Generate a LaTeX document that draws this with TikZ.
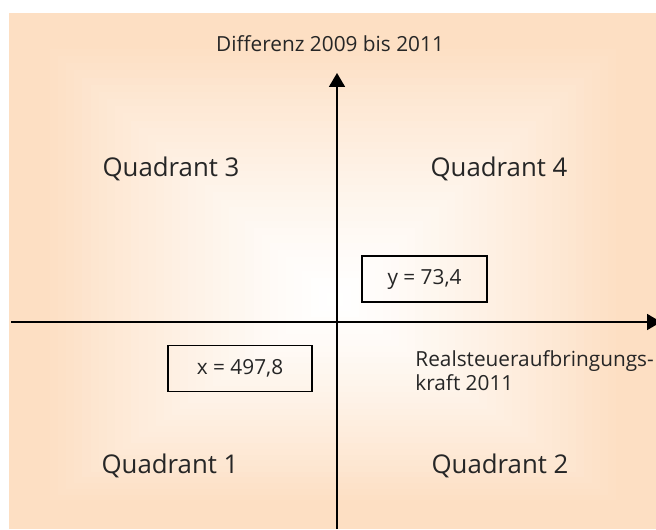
\documentclass[tikz,border=0pt]{standalone}
\usepackage{fontspec}
\setmainfont{Open Sans}
\usetikzlibrary{arrows.meta,positioning,calc}
\definecolor{peach}{RGB}{253,223,195}
\definecolor{labelgray}{RGB}{38,38,38}
\tikzset{
  axisline/.style={-{Triangle[length=7pt,width=8pt]},line width=0.9pt,draw=black},
  valbox/.style={draw=black,line width=0.7pt,minimum height=23pt,inner sep=0pt,
    font=\fontsize{10.4}{12}\selectfont,text=labelgray},
  quadlabel/.style={anchor=base,inner sep=0pt,font=\fontsize{12.9}{15}\selectfont,text=labelgray},
  axislabel/.style={inner sep=0pt,font=\fontsize{10.4}{12}\selectfont,text=labelgray}
}
\begin{document}
\begin{tikzpicture}[x=0.5pt,y=-0.5pt]
  \useasboundingbox (0,0) rectangle (656,529);
  % background, fading from the edges to the middle
  \foreach \i in {0,...,40}{
    \pgfmathsetmacro{\f}{\i/40}
    \pgfmathsetmacro{\mix}{min(100,115*(1-\f)^1.3)}
    \fill[peach!\mix!white] ($(9,13)!\f!(335,300)$) rectangle ($(656,529)!\f!(335,300)$);
  }
  % axes
  \coordinate (origin) at (337,322);
  \coordinate (xstart) at (11,322);
  \coordinate (xend) at (661,322);
  \coordinate (ystart) at (337,529);
  \coordinate (yend) at (337,73);
  \draw[axisline] (xstart) -- (xend);
  \draw[axisline] (ystart) -- (yend);
  % labels
  \node[axislabel,anchor=base] (ytitle) at (330,52) {Differenz 2009 bis 2011};
  \node[axislabel,anchor=north west,align=left] (xtitle) at (415,350)
    {Realsteueraufbringungs-\\kraft 2011};
  \node[quadlabel] (q3) at (171,176) {Quadrant 3};
  \node[quadlabel] (q4) at (499,176) {Quadrant 4};
  \node[quadlabel] (q1) at (170,473) {Quadrant 1};
  \node[quadlabel] (q2) at (500,473) {Quadrant 2};
  \node[valbox,minimum width=62.5pt] (ybox) at (424.5,279) {y = 73,4};
  \node[valbox,minimum width=72pt] (xbox) at (240,368.5) {x = 497,8};
\end{tikzpicture}
\end{document}
